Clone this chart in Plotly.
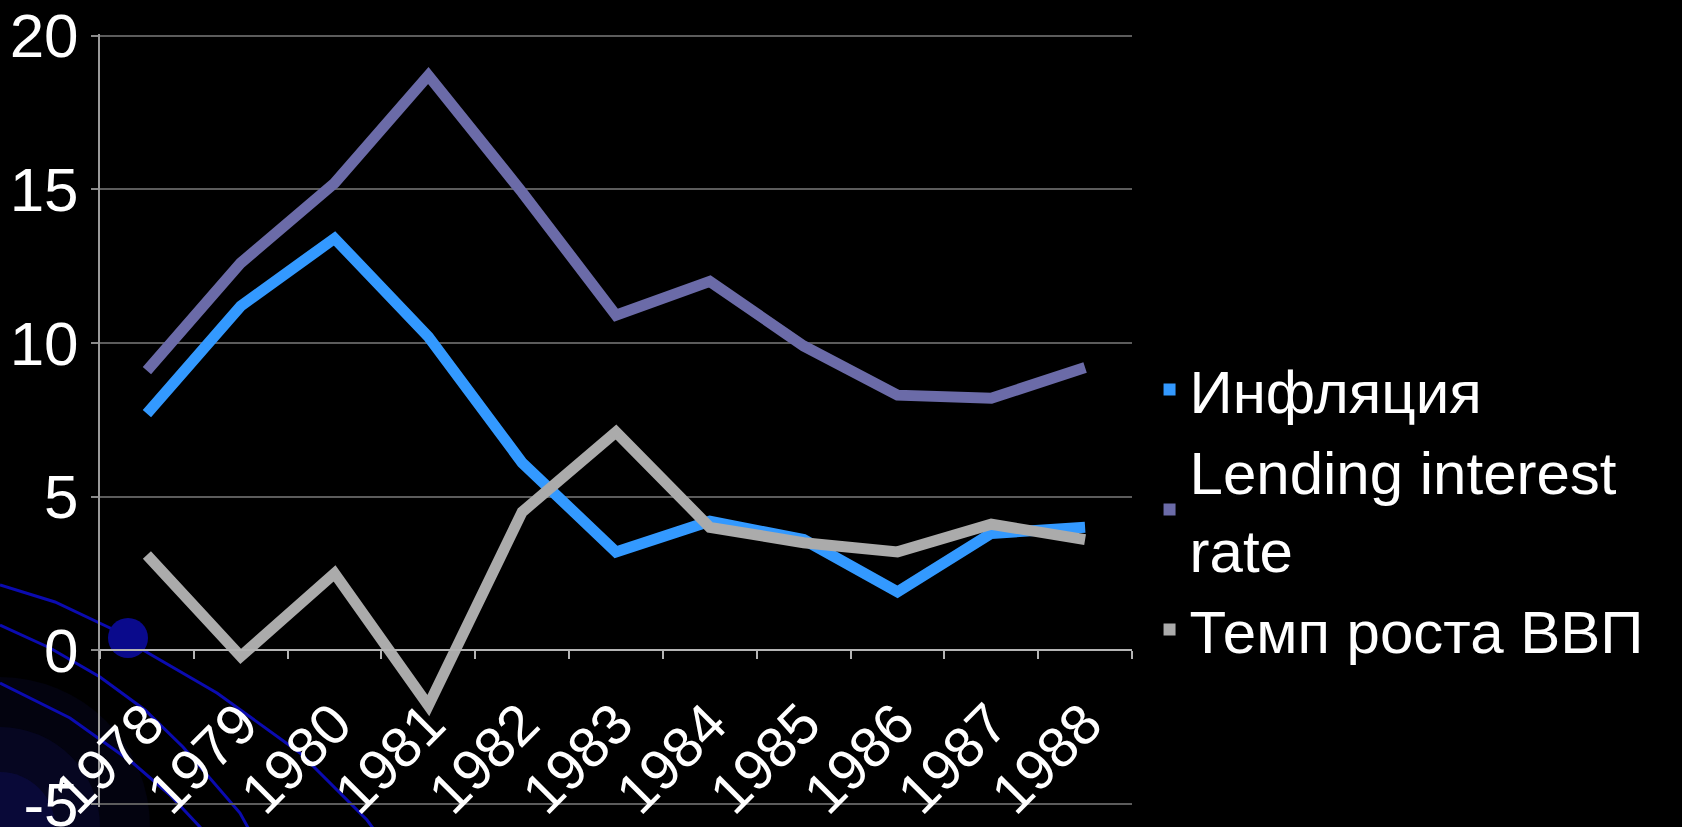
import plotly.graph_objects as go

# Chart data
years = ["1978", "1979", "1980", "1981", "1982", "1983",
         "1984", "1985", "1986", "1987", "1988"]
inflation = [7.7, 11.2, 13.4, 10.2, 6.1, 3.2, 4.2, 3.6, 1.9, 3.8, 4.0]
lending_rate = [9.1, 12.6, 15.2, 18.7, 14.9, 10.9, 12.0, 9.9, 8.3, 8.2, 9.2]
gdp_growth = [3.1, -0.2, 2.5, -1.8, 4.5, 7.1, 4.0, 3.5, 3.2, 4.1, 3.6]

series_names = ["Инфляция", "Lending interest<br>rate", "Темп роста ВВП"]
series_colors = ["#3399FF", "#6B6BA8", "#ABABAB"]
y_ticks = [-5, 0, 5, 10, 15, 20]
Y_RANGE = [-5.1, 20.05]

FONT = "Liberation Sans, Arial, sans-serif"
W, H = 1682, 827
M_L, M_R, M_T, M_B = 100, 550, 34, 20
PW, PH = W - M_L - M_R, H - M_T - M_B


def px(x, y):
    """Pixel position -> paper coordinates (for slide decoration)."""
    return (x - M_L) / PW, (H - M_B - y) / PH


def polyline(points):
    pts = [px(*p) for p in points]
    return "M " + " L ".join(f"{x},{y}" for x, y in pts)


fig = go.Figure()

for name, vals, col in zip(series_names, [inflation, lending_rate, gdp_growth], series_colors):
    fig.add_trace(go.Scatter(
        x=years, y=vals, mode="lines", name=name,
        line=dict(color=col, width=11), showlegend=False,
    ))

# Legend entries drawn as small square swatches
for name, col in zip(series_names, series_colors):
    fig.add_trace(go.Scatter(
        x=[None], y=[None], mode="markers", name=name,
        marker=dict(symbol="square", size=12, color=col),
    ))

# Decorative slide background: blue arcs, dot and corner glow
shapes = []
for r, op in [(150, 0.10), (100, 0.14), (55, 0.2)]:
    x0, y0 = px(-r, H - r)
    x1, y1 = px(r, H + r)
    shapes.append(dict(type="circle", xref="paper", yref="paper",
                       x0=x0, y0=y1, x1=x1, y1=y0, layer="below",
                       fillcolor=f"rgba(25,25,150,{op})", line=dict(width=0)))
arcs = [
    [(0, 585), (55, 602), (110, 628), (143, 650), (217, 693), (300, 753), (367, 820), (378, 835)],
    [(0, 625), (50, 648), (100, 677), (145, 710), (183, 747), (240, 813), (252, 835)],
    [(0, 683), (70, 718), (133, 763), (170, 795), (200, 827), (206, 835)],
]
for pts in arcs:
    shapes.append(dict(type="path", xref="paper", yref="paper", path=polyline(pts),
                       layer="below", line=dict(color="#0b0bb0", width=3)))
cx0, cy0 = px(108, 618)
cx1, cy1 = px(148, 658)
shapes.append(dict(type="circle", xref="paper", yref="paper",
                   x0=cx0, y0=cy1, x1=cx1, y1=cy0, layer="below",
                   fillcolor="#0a0a8c", line=dict(width=0)))

fig.update_layout(
    width=W, height=H,
    margin=dict(l=M_L, r=M_R, t=M_T, b=M_B, autoexpand=False),
    paper_bgcolor="#000000",
    plot_bgcolor="rgba(0,0,0,0)",
    font=dict(family=FONT, color="#FFFFFF"),
    shapes=shapes,
    xaxis=dict(
        type="category",
        anchor="free", position=(0 - Y_RANGE[0]) / (Y_RANGE[1] - Y_RANGE[0]),
        range=[-0.5, 10.5],
        automargin=False,
        showgrid=False, zeroline=False,
        showline=True, linecolor="#B4B4B4", linewidth=2,
        ticks="outside", tickson="boundaries", ticklen=8,
        tickcolor="#B4B4B4", tickwidth=2,
        tickangle=-45,
        tickfont=dict(family=FONT, size=57, color="#FFFFFF"),
        ticklabelstandoff=16,
        ticklabeloverflow="allow",
    ),
    yaxis=dict(
        range=Y_RANGE,
        tickvals=y_ticks,
        ticktext=[str(v) for v in y_ticks],
        automargin=False,
        showgrid=True, gridcolor="#5C5C5C", gridwidth=2,
        zeroline=False,
        showline=True, linecolor="#9A9A9A", linewidth=2,
        ticks="outside", ticklen=7, tickcolor="#8A8A8A", tickwidth=2,
        tickfont=dict(family=FONT, size=62, color="#FFFFFF"),
        ticklabelstandoff=0,
        ticklabeloverflow="allow",
    ),
    legend=dict(
        x=1.017, xanchor="left",
        y=0.385, yanchor="middle",
        font=dict(family=FONT, size=60, color="#FFFFFF"),
        bgcolor="rgba(0,0,0,0)",
        tracegroupgap=0,
        itemwidth=30,
    ),
)

fig.write_html("out.html")
